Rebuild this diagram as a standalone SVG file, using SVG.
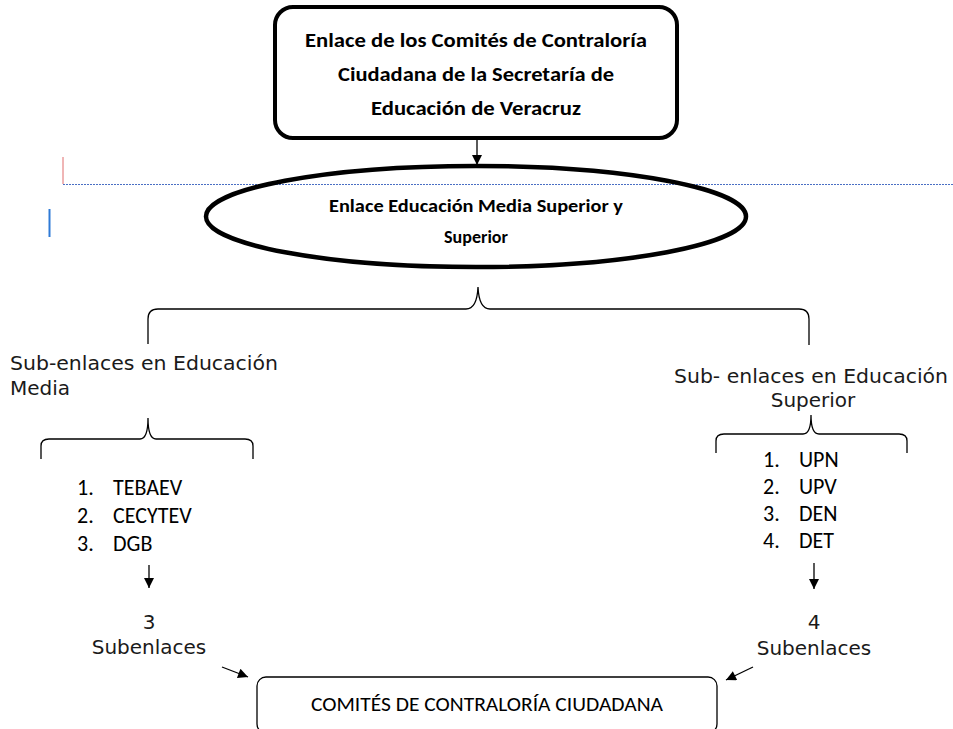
<svg xmlns="http://www.w3.org/2000/svg" width="953" height="729" viewBox="0 0 953 729">
<style>
.bold{font-family:Carlito,Calibri,Lato,"Liberation Sans",sans-serif;font-weight:bold;font-size:20px;fill:#000;text-anchor:middle}
.verd{font-family:"DejaVu Sans",Verdana,sans-serif;font-size:20px;fill:#1a1a1a}
.cal{font-family:Carlito,Calibri,Lato,sans-serif;font-size:22px;fill:#000}
.brace{fill:none;stroke:#000;stroke-width:1.3}
.conn{fill:none;stroke:#000;stroke-width:1.3}
</style>
<defs>
<marker id="ah" viewBox="0 0 10 10" refX="10" refY="5" markerWidth="11" markerHeight="10" markerUnits="userSpaceOnUse" orient="auto">
<path d="M0,0 L10,5 L0,10 z" fill="#000"/>
</marker>
</defs>
<rect width="953" height="729" fill="#fff"/>

<g id="editor-marks">
<line x1="63" y1="157" x2="63" y2="184" stroke="#e06c6c" stroke-width="1"/>
<line x1="63" y1="184.5" x2="953" y2="184.5" stroke="#4a6fc4" stroke-width="1" stroke-dasharray="2,1"/>
<line x1="49.5" y1="209" x2="49.5" y2="237" stroke="#2f7ad6" stroke-width="2"/>
</g>

<g id="connectors">
<line class="conn" x1="477" y1="138" x2="477" y2="165" marker-end="url(#ah)"/>
<path class="brace" d="M148,344 L148,319 Q148,309 158,309 L466,309 Q477,309 478,287 Q479,309 490,309 L799,309 Q809,309 809,319 L809,345"/>
<path class="brace" d="M41,459 L41,446 Q41,439 49,439 L140,439 Q148,439 148,418 Q148,439 156,439 L245,439 Q253,439 253,446 L253,459"/>
<path class="brace" d="M716,453 L716,441 Q716,434 724,434 L803,434 Q811,434 811,415 Q811,434 819,434 L899,434 Q907,434 907,441 L907,453"/>
<line class="conn" x1="149" y1="565" x2="149" y2="588" marker-end="url(#ah)"/>
<line class="conn" x1="814" y1="563" x2="814" y2="589" marker-end="url(#ah)"/>
<line class="conn" x1="222" y1="667" x2="248" y2="677" marker-end="url(#ah)"/>
<line class="conn" x1="753" y1="667" x2="726" y2="680" marker-end="url(#ah)"/>
</g>

<g id="node-enlace-sev">
<rect x="275" y="7" width="402" height="131" rx="18" ry="18" fill="#fff" stroke="#000" stroke-width="4"/>
<text class="bold" x="476" y="47" textLength="342" lengthAdjust="spacingAndGlyphs">Enlace de los Comités de Contraloría</text>
<text class="bold" x="476" y="81" textLength="276" lengthAdjust="spacingAndGlyphs">Ciudadana de la Secretaría de</text>
<text class="bold" x="476" y="115" textLength="210" lengthAdjust="spacingAndGlyphs">Educación de Veracruz</text>
</g>

<g id="node-enlace-ems">
<ellipse cx="476" cy="216.5" rx="270" ry="50.5" fill="none" stroke="#000" stroke-width="4.5"/>
<text class="bold" x="476" y="212" style="font-size:18px" textLength="294" lengthAdjust="spacingAndGlyphs">Enlace Educación Media Superior y</text>
<text class="bold" x="476" y="243" style="font-size:18px">Superior</text>
</g>

<g id="node-sub-media">
<text class="verd" x="10" y="370" textLength="268" lengthAdjust="spacingAndGlyphs">Sub-enlaces en Educación</text>
<text class="verd" x="10" y="395">Media</text>
</g>

<g id="node-sub-superior">
<text class="verd" x="674" y="383" textLength="274" lengthAdjust="spacingAndGlyphs">Sub- enlaces en Educación</text>
<text class="verd" x="813" y="407" text-anchor="middle">Superior</text>
</g>

<g id="node-list-media">
<text class="cal" x="77" y="495">1.</text><text class="cal" x="113" y="495">TEBAEV</text>
<text class="cal" x="77" y="523">2.</text><text class="cal" x="113" y="523">CECYTEV</text>
<text class="cal" x="77" y="551">3.</text><text class="cal" x="113" y="551">DGB</text>
</g>

<g id="node-list-superior">
<text class="cal" x="763" y="467">1.</text><text class="cal" x="799" y="467">UPN</text>
<text class="cal" x="763" y="494">2.</text><text class="cal" x="799" y="494">UPV</text>
<text class="cal" x="763" y="521">3.</text><text class="cal" x="799" y="521">DEN</text>
<text class="cal" x="763" y="548">4.</text><text class="cal" x="799" y="548">DET</text>
</g>

<g id="node-3-subenlaces">
<text class="verd" x="149" y="629" text-anchor="middle">3</text>
<text class="verd" x="149" y="654" text-anchor="middle">Subenlaces</text>
</g>

<g id="node-4-subenlaces">
<text class="verd" x="814" y="629" text-anchor="middle">4</text>
<text class="verd" x="814" y="655" text-anchor="middle">Subenlaces</text>
</g>

<g id="node-comites">
<rect x="257" y="677" width="460" height="56" rx="9" ry="9" fill="#fff" stroke="#000" stroke-width="1.3"/>
<text class="cal" x="487" y="711" text-anchor="middle" style="font-size:21px" textLength="352" lengthAdjust="spacingAndGlyphs">COMITÉS DE CONTRALORÍA CIUDADANA</text>
</g>
</svg>
